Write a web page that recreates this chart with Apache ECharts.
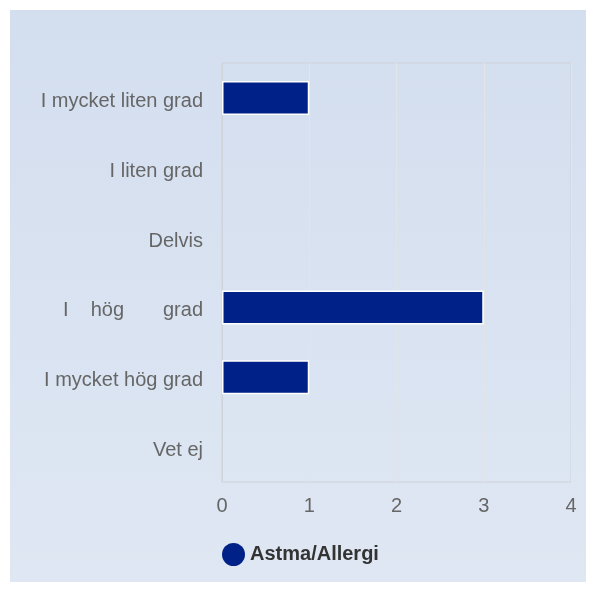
<!DOCTYPE html>
<html><head><meta charset="utf-8">
<script src="https://cdn.jsdelivr.net/npm/echarts@6/dist/echarts.min.js"></script>
<style>html,body{margin:0;padding:0;background:#fff}#c{width:596px;height:592px}</style>
</head><body><div id="c"></div>
<script>
const categories = ["I mycket liten grad", "I liten grad", "Delvis", "I    hög       grad", "I mycket hög grad", "Vet ej"];
const values = [1, 0, 0, 3, 1, 0];
const seriesName = "Astma/Allergi";
const xTicks = [0, 1, 2, 3, 4];

const chart = echarts.init(document.getElementById('c'), null, {renderer: 'canvas'});
chart.setOption({
  backgroundColor: '#ffffff',
  animation: false,
  graphic: [{
    type: 'rect', z: -10, silent: true,
    shape: {x: 10, y: 10, width: 576, height: 572},
    style: {fill: new echarts.graphic.LinearGradient(0, 0, 0, 1, [{offset: 0, color: '#d3deef'}, {offset: 1, color: '#dfe7f3'}])}
  }],
  grid: {left: 222, right: 25, top: 63, bottom: 110, show: true, borderColor: '#cfd3da', borderWidth: 1, backgroundColor: 'transparent'},
  legend: {
    data: [seriesName], left: 217, top: 538, icon: 'circle', itemWidth: 23, itemHeight: 23, itemGap: 8,
    itemStyle: {borderWidth: 0},
    textStyle: {fontFamily: 'Liberation Sans, Arial', fontSize: 20, fontWeight: 'bold', color: '#333'}
  },
  xAxis: {
    type: 'value', min: xTicks[0], max: xTicks[xTicks.length - 1], interval: 1,
    axisLine: {show: false}, axisTick: {show: false},
    splitLine: {show: true, lineStyle: {color: '#e2e4e8', width: 1}},
    axisLabel: {fontFamily: 'Liberation Sans, Arial', fontSize: 20, color: '#666', margin: 14}
  },
  yAxis: {
    type: 'category', data: categories, inverse: true,
    axisLine: {show: true, lineStyle: {color: '#cfd3da'}}, axisTick: {show: false},
    axisLabel: {
      margin: 19,
      formatter: v => '{a|' + v + '}',
      rich: {a: {fontFamily: 'Liberation Sans, Arial', fontSize: 20, color: '#666', lineHeight: 20, padding: [7, 0, 0, 0]}}
    }
  },
  series: [{
    name: seriesName, type: 'bar', barWidth: 34,
    data: values.map(v => ({value: v, itemStyle: {borderWidth: v ? 1.5 : 0}})),
    itemStyle: {color: '#002288', borderColor: '#ffffff', borderWidth: 1.5}
  }]
});
</script></body></html>
